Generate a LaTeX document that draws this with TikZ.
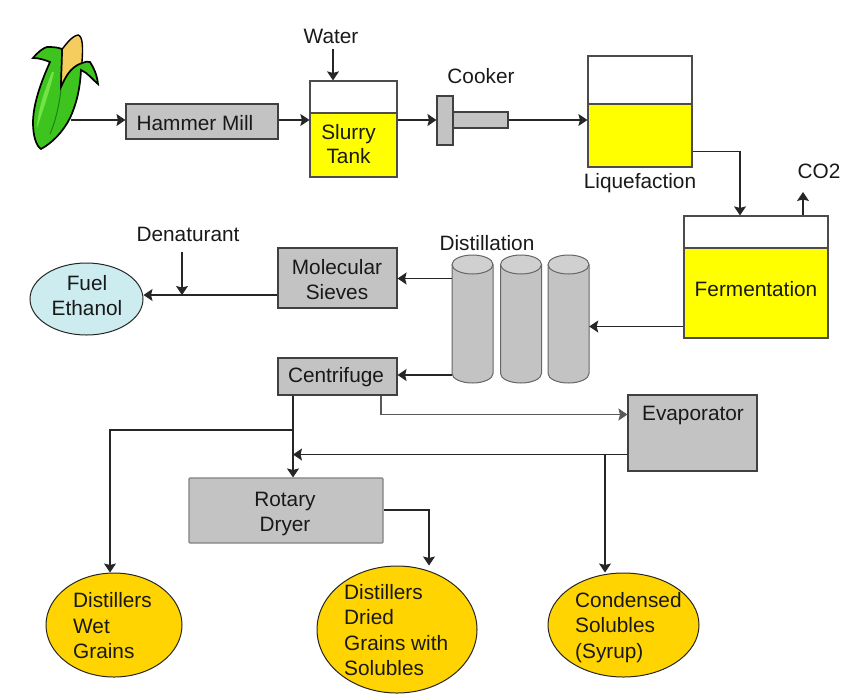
\documentclass[tikz,border=0pt]{standalone}
\usepackage{fontspec}
\setmainfont{Liberation Sans}
\usetikzlibrary{shapes.geometric,arrows.meta}
\definecolor{boxgray}{RGB}{195,195,195}
\definecolor{capgray}{RGB}{208,208,208}
\definecolor{grainorange}{RGB}{255,212,0}
\definecolor{ethanolblue}{RGB}{204,236,240}
\definecolor{liquid}{RGB}{255,255,0}
\definecolor{kernel}{RGB}{245,205,95}
\definecolor{husk}{RGB}{62,196,30}
\definecolor{huskhi}{RGB}{115,228,70}
\definecolor{huskdk}{RGB}{30,130,20}
\tikzset{
	unit/.style={
		shape = rectangle,
		draw = black!75,
		fill = boxgray,
		line width = 1.1pt,
		inner sep = 0pt
	},
	product/.style={
		shape = ellipse,
		draw = black!85,
		line width = 1pt,
		inner sep = 0pt
	},
	tankbox/.style={
		shape = rectangle,
		draw = black!70,
		fill = white,
		line width = 1.2pt,
		inner sep = 0pt
	},
	tankfill/.style={
		shape = rectangle,
		draw = black!70,
		fill = liquid,
		line width = 1.2pt,
		inner sep = 0pt
	},
	lbl/.style={
		inner sep = 0pt,
		align = center,
		font = \mylabel,
		text = black!90
	},
	lblleft/.style={
		lbl,
		align = left,
		anchor = west
	},
	flow/.style={
		draw = black!85,
		line width = 1.2pt,
		-{Stealth[length=9pt,width=12pt,inset=1.5pt]}
	},
	column/.style={
		draw = black!60,
		fill = boxgray,
		line width = 1pt
	},
}
\newcommand{\mylabel}{\fontsize{20.8}{25.5}\selectfont}
\begin{document}
\begin{tikzpicture}[x=1pt,y=-1pt]
    \useasboundingbox (0,0) rectangle (850,694);
    % corn
    \draw[fill=kernel,line width=1.4pt] (60,52) .. controls (66,44) and (72,36) .. (78,35) .. controls (83,36) and (83,48) .. (82,62) -- (78,78) -- (61,90) -- cycle;
    \draw[fill=husk,line width=1.7pt] (50,62) .. controls (45,60) and (39,58) .. (33,58) .. controls (38,52) and (43,48) .. (47,47) .. controls (52,47) and (57,47) .. (62,49) .. controls (62,62) and (61,75) .. (61,87) .. controls (65,78) and (70,67) .. (82,63) .. controls (85,62) and (88,61) .. (90,62) .. controls (94,68) and (97,75) .. (98,84) .. controls (93,80) and (88,73) .. (81,70) .. controls (80,90) and (76,105) .. (70,118) .. controls (63,132) and (52,143) .. (41,149) .. controls (36,146) and (33,135) .. (33,123) .. controls (33,103) and (42,80) .. (50,62) -- cycle;
    \fill[huskhi] (52,72) .. controls (45,90) and (38,108) .. (37,128) .. controls (43,110) and (50,90) .. (54,72) -- cycle;
    \draw[huskdk,line width=1pt] (61,90) .. controls (59,105) and (56,120) .. (50,134);
    % units
    \node[unit, minimum width=152pt, minimum height=35pt] (mill) at (202,121.5) {};
    \node[lbl] (milllbl) at (195,123) {Hammer Mill};
    % slurry tank
    \node[tankbox, minimum width=87pt, minimum height=96pt] (slurry) at (353.5,129) {};
    \node[tankfill, minimum width=87pt, minimum height=64pt] (slurryliq) at (353.5,145) {};
    \node[lbl] (slurrylbl) at (348.5,144) {Slurry\\[-1.5pt]Tank};
    \node[lbl] (water) at (331,36) {Water};
    \coordinate (waterout) at (333,49);
    % cooker
    \node[unit, minimum width=55pt, minimum height=16pt] (tube) at (480.5,120) {};
    \node[unit, minimum width=16pt, minimum height=49pt] (cooker) at (445,120.5) {};
    \node[lbl] (cookerlbl) at (481,76) {Cooker};
    % liquefaction
    \node[tankbox, minimum width=104pt, minimum height=111pt] (liq) at (640,111.5) {};
    \node[tankfill, minimum width=104pt, minimum height=63pt] (liqfill) at (640,135.5) {};
    \node[lbl] (liqlbl) at (640,183) {Liquefaction};
    % fermentation
    \node[tankbox, minimum width=144pt, minimum height=122pt] (ferm) at (756,277) {};
    \node[tankfill, minimum width=144pt, minimum height=90pt] (fermfill) at (756,293) {};
    \node[lbl] (fermlbl) at (756,289) {Fermentation};
    \node[lbl] (co2) at (819,171) {CO2};
    \coordinate (co2end) at (803,192);
    % distillation columns
    \foreach \name/\x in {cola/472.5, colb/521, colc/568.5}{
      \node[minimum width=41pt, minimum height=128pt, inner sep=0pt] (\name) at (\x,319) {};
      \draw[column] (\x-20.5,264.5) -- (\x-20.5,373.5) arc[start angle=180, end angle=360, x radius=20.5pt, y radius=9.5pt] -- (\x+20.5,264.5);
      \draw[column, fill=capgray] (\x,264.5) ellipse[x radius=20.5pt, y radius=9.5pt];
    }
    \node[lbl] (distlbl) at (487,243) {Distillation};
    % lower units
    \node[unit, minimum width=119pt, minimum height=60pt] (sieves) at (337.5,278) {};
    \node[lbl] (sieveslbl) at (337,279.5) {Molecular\\[-0.5pt]Sieves};
    \node[unit, minimum width=119pt, minimum height=37pt] (centri) at (337.5,376.5) {};
    \node[lbl] (centrilbl) at (336,377) {Centrifuge};
    \node[unit, minimum width=129pt, minimum height=76pt] (evap) at (692.5,433) {};
    \node[lbl] (evaplbl) at (693,415) {Evaporator};
    \node[unit, draw=black!50, rounded corners=1pt, minimum width=194pt, minimum height=65pt] (dryer) at (286,510.5) {};
    \node[lbl] (dryerlbl) at (285,514) {Rotary\\[-0.5pt]Dryer};
    % products
    \node[product, fill=ethanolblue, minimum width=113pt, minimum height=72pt] (fuel) at (86.5,299) {};
    \node[lbl] (fuellbl) at (87,295.5) {Fuel\\[-0.5pt]Ethanol};
    \node[lbl] (denat) at (188,234) {Denaturant};
    \coordinate (denatout) at (182,252);
    \node[product, fill=grainorange, minimum width=136pt, minimum height=104pt] (wet) at (114,625) {};
    \node[lblleft] (wetlbl) at (73,626) {Distillers\\Wet\\Grains};
    \node[product, fill=grainorange, minimum width=160pt, minimum height=127pt] (dried) at (397,629.5) {};
    \node[lblleft] (driedlbl) at (344,630) {Distillers\\Dried\\Grains with\\Solubles};
    \node[product, fill=grainorange, minimum width=151pt, minimum height=104pt] (syrup) at (623.5,625) {};
    \node[lblleft] (syruplbl) at (575,627.5) {Condensed\\Solubles\\(Syrup)};
    % helper points
    \coordinate (cornout) at (71,120);
    \coordinate (fuelj) at (182,295);
    \coordinate (wetj) at (293,430);
    \coordinate (dryj) at (293,454.5);
    \coordinate (syrupj) at (605,454.5);
    % connectors
    \draw[flow] (cornout) -- (mill.west |- cornout);
    \draw[flow] (mill.east |- cornout) -- (slurry.west |- cornout);
    \draw[flow] (slurry.east |- cornout) -- (cooker.west |- cornout);
    \draw[flow] (tube.east) -- (liq.west |- tube.east);
    \draw[flow] (waterout) -- (slurry.north -| waterout);
    \draw[flow] (liqfill.east |- 0,151.5) -- (740,151.5) -- (ferm.north -| 740,0);
    \draw[flow] (ferm.north -| co2end) -- (co2end);
    \draw[flow] (ferm.west |- 0,326.5) -- (colc.east |- 0,326.5);
    \draw[flow] (cola.west |- 0,278.5) -- (sieves.east |- 0,278.5);
    \draw[flow] (cola.west |- 0,375) -- (centri.east |- 0,375);
    \draw[flow] (sieves.west |- 0,295) -- (fuel.east |- 0,295);
    \draw[flow] (denatout) -- (fuelj);
    \draw[flow, draw=black!65] (centri.south -| 381,0) -- (381,414.5) -- (evap.west |- 0,414.5);
    \draw[flow] (centri.south -| dryj) -- (dryer.north -| dryj);
    \draw[flow] (wetj) -- (110,430) -- (wet.north -| 110,0);
    \draw[flow] (evap.west |- dryj) -- (dryj);
    \draw[flow] (syrupj) -- (syrup.north -| syrupj);
    \draw[flow] (dryer.east |- 0,510) -- (429,510) -- (dried.north -| 429,0);
    \end{tikzpicture}
\end{document}
